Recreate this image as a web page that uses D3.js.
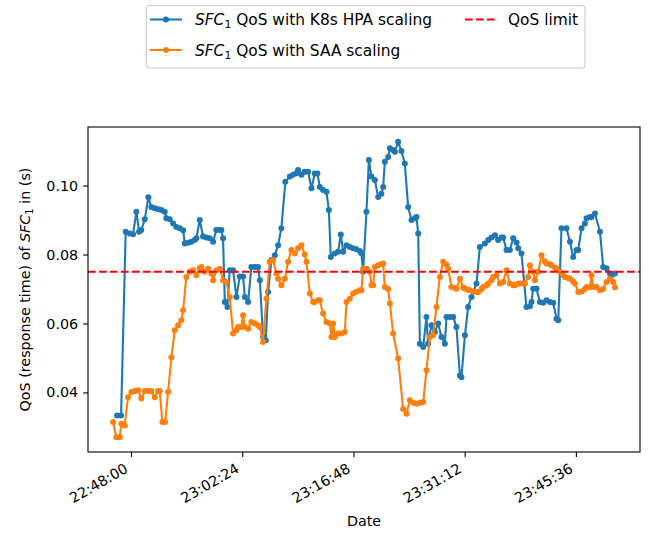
<!DOCTYPE html>
<html>
<head>
<meta charset="utf-8">
<script src="https://cdn.jsdelivr.net/npm/d3@7"></script>
<style>
  html, body { margin: 0; padding: 0; background: #ffffff; }
  svg { display: block; }
  text { font-family: "DejaVu Sans", sans-serif; fill: #000; }
</style>
</head>
<body>
<svg id="chart" width="649" height="534"></svg>
<script>
// Measurement start; samples are given as seconds elapsed since it.
const startTime = "22:45:25";

// SFC1 response time with Kubernetes HPA scaling
const hpaSeconds = [47, 78, 114, 145, 171, 197, 218, 235, 262, 290, 313, 340, 365, 391, 417, 430, 456, 482, 507, 534,
  560, 573, 598, 624, 650, 663, 689, 715, 741, 767, 793, 818, 845, 857, 870, 884, 904, 922, 948, 974,
  1000, 1026, 1039, 1065, 1090, 1117, 1142, 1156, 1181, 1202, 1220, 1246, 1272, 1298, 1323, 1354, 1389, 1414, 1440, 1453,
  1479, 1505, 1531, 1557, 1583, 1603, 1622, 1647, 1673, 1692, 1707, 1738, 1764, 1785, 1803, 1829, 1855, 1881, 1906, 1933,
  1945, 1958, 1984, 2003, 2023, 2049, 2075, 2100, 2114, 2127, 2153, 2166, 2191, 2205, 2230, 2256, 2282, 2308, 2334, 2360,
  2373, 2386, 2399, 2425, 2450, 2463, 2489, 2515, 2541, 2567, 2593, 2606, 2632, 2658, 2683, 2710, 2722, 2749, 2774, 2800,
  2839, 2865, 2904, 2930, 2955, 2982, 3007, 3033, 3046, 3072, 3098, 3124, 3150, 3163, 3188, 3227, 3254, 3266, 3279, 3305,
  3331, 3357, 3383, 3409, 3435, 3460, 3474, 3499, 3538, 3565, 3590, 3616, 3629, 3655, 3681, 3694, 3720, 3732, 3759, 3798,
  3823, 3849, 3875, 3888, 3914];
const hpaQoS = [0.0333, 0.0333, 0.0866, 0.0861, 0.0859, 0.0924, 0.0866, 0.0871, 0.0902, 0.0966, 0.0938, 0.0934, 0.0931, 0.0929, 0.0924, 0.0905, 0.0902, 0.0890, 0.0880, 0.0876,
  0.0870, 0.0832, 0.0834, 0.0837, 0.0842, 0.0847, 0.0900, 0.0852, 0.0849, 0.0847, 0.0837, 0.0871, 0.0871, 0.0871, 0.0847, 0.0662, 0.0648, 0.0754, 0.0754, 0.0677,
  0.0736, 0.0736, 0.0677, 0.0662, 0.0764, 0.0764, 0.0764, 0.0725, 0.0561, 0.0551, 0.0691, 0.0784, 0.0798, 0.0827, 0.0876, 0.1011, 0.1026, 0.1031, 0.1036, 0.1045,
  0.1031, 0.1040, 0.1040, 0.0992, 0.1035, 0.1035, 0.0996, 0.0987, 0.0982, 0.0929, 0.0793, 0.0803, 0.0808, 0.0858, 0.0808, 0.0827, 0.0822, 0.0818, 0.0815, 0.0810,
  0.0803, 0.0750, 0.0924, 0.1074, 0.1026, 0.1016, 0.0967, 0.0976, 0.0996, 0.1069, 0.1083, 0.1108, 0.1103, 0.1098, 0.1127, 0.1100, 0.1064, 0.0938, 0.0900, 0.0905,
  0.0909, 0.0861, 0.0541, 0.0532, 0.0619, 0.0541, 0.0595, 0.0575, 0.0600, 0.0561, 0.0541, 0.0619, 0.0619, 0.0619, 0.0590, 0.0449, 0.0444, 0.0566, 0.0648, 0.0677,
  0.0716, 0.0822, 0.0832, 0.0842, 0.0849, 0.0856, 0.0842, 0.0849, 0.0849, 0.0813, 0.0813, 0.0847, 0.0835, 0.0818, 0.0803, 0.0648, 0.0650, 0.0662, 0.0701, 0.0701,
  0.0662, 0.0660, 0.0667, 0.0662, 0.0660, 0.0614, 0.0609, 0.0876, 0.0876, 0.0837, 0.0793, 0.0813, 0.0813, 0.0876, 0.0890, 0.0905, 0.0909, 0.0909, 0.0919, 0.0866,
  0.0764, 0.0760, 0.0745, 0.0740, 0.0745];

// SFC1 response time with SAA scaling
const saaSeconds = [16, 41, 68, 80, 106, 132, 158, 184, 210, 235, 262, 288, 313, 340, 365, 378, 399, 420, 443, 469,
  495, 521, 546, 560, 585, 612, 637, 663, 689, 702, 728, 754, 779, 793, 818, 845, 870, 896, 922, 948,
  974, 987, 1013, 1026, 1039, 1065, 1090, 1117, 1142, 1156, 1181, 1207, 1233, 1259, 1285, 1298, 1323, 1350, 1375, 1401,
  1428, 1453, 1479, 1505, 1518, 1544, 1570, 1583, 1609, 1622, 1647, 1673, 1700, 1712, 1725, 1738, 1764, 1790, 1816, 1829,
  1855, 1881, 1906, 1933, 1945, 1958, 1984, 2010, 2023, 2036, 2049, 2075, 2100, 2114, 2127, 2153, 2166, 2191, 2230, 2269,
  2295, 2321, 2347, 2373, 2399, 2425, 2450, 2477, 2502, 2528, 2554, 2580, 2606, 2619, 2644, 2671, 2683, 2710, 2735, 2749,
  2774, 2787, 2813, 2839, 2852, 2878, 2891, 2916, 2930, 2955, 2969, 2994, 3021, 3046, 3072, 3098, 3124, 3137, 3163, 3176,
  3202, 3215, 3240, 3254, 3279, 3293, 3318, 3344, 3370, 3383, 3409, 3422, 3448, 3460, 3487, 3513, 3526, 3551, 3565, 3590,
  3603, 3629, 3655, 3681, 3694, 3720, 3732, 3746, 3771, 3798, 3823, 3849, 3875, 3901, 3914];
const saaQoS = [0.0314, 0.0270, 0.0270, 0.0309, 0.0304, 0.0386, 0.0401, 0.0404, 0.0406, 0.0382, 0.0404, 0.0404, 0.0404, 0.0386, 0.0404, 0.0404, 0.0314, 0.0314, 0.0401, 0.0502,
  0.0580, 0.0595, 0.0609, 0.0638, 0.0735, 0.0750, 0.0754, 0.0740, 0.0760, 0.0764, 0.0750, 0.0759, 0.0745, 0.0725, 0.0754, 0.0759, 0.0725, 0.0720, 0.0677, 0.0571,
  0.0580, 0.0590, 0.0590, 0.0624, 0.0590, 0.0585, 0.0604, 0.0600, 0.0595, 0.0590, 0.0546, 0.0672, 0.0779, 0.0784, 0.0745, 0.0730, 0.0711, 0.0730, 0.0779, 0.0813,
  0.0803, 0.0818, 0.0827, 0.0800, 0.0779, 0.0687, 0.0662, 0.0662, 0.0667, 0.0667, 0.0629, 0.0604, 0.0600, 0.0561, 0.0600, 0.0561, 0.0571, 0.0571, 0.0575, 0.0662,
  0.0672, 0.0687, 0.0692, 0.0696, 0.0696, 0.0759, 0.0759, 0.0750, 0.0711, 0.0711, 0.0764, 0.0769, 0.0772, 0.0774, 0.0706, 0.0700, 0.0658, 0.0571, 0.0498, 0.0352,
  0.0338, 0.0377, 0.0370, 0.0367, 0.0370, 0.0372, 0.0464, 0.0561, 0.0566, 0.0648, 0.0735, 0.0779, 0.0770, 0.0759, 0.0706, 0.0703, 0.0701, 0.0730, 0.0705, 0.0701,
  0.0698, 0.0696, 0.0693, 0.0691, 0.0691, 0.0700, 0.0706, 0.0710, 0.0716, 0.0725, 0.0735, 0.0740, 0.0716, 0.0720, 0.0754, 0.0716, 0.0711, 0.0711, 0.0716, 0.0716,
  0.0716, 0.0716, 0.0735, 0.0769, 0.0750, 0.0725, 0.0750, 0.0798, 0.0780, 0.0774, 0.0772, 0.0769, 0.0762, 0.0759, 0.0750, 0.0740, 0.0735, 0.0732, 0.0730, 0.0722,
  0.0716, 0.0691, 0.0693, 0.0700, 0.0706, 0.0706, 0.0740, 0.0706, 0.0706, 0.0696, 0.0700, 0.0720, 0.0730, 0.0720, 0.0705];

const qosLimit = 0.075;
const yTickValues = [0.04, 0.06, 0.08, 0.10];
const xTickLabels = ["22:48:00", "23:02:24", "23:16:48", "23:31:12", "23:45:36"];

const colors = { hpa: "#1f77b4", saa: "#ff7f0e", limit: "#ff0000" };

const parseTime = d3.timeParse("%H:%M:%S");
const t0 = parseTime(startTime);
const toSeries = (secs, vals) => secs.map((s, i) => ({ t: new Date(t0.getTime() + s * 1000), v: vals[i] }));
const hpa = toSeries(hpaSeconds, hpaQoS);
const saa = toSeries(saaSeconds, saaQoS);

const svg = d3.select("#chart");
const plot = { left: 88, right: 640, top: 127, bottom: 452 };
const fontSize = 14.3;
const legendFontSize = 15.4;

// Data limits with 5% padding on each side
const all = hpa.concat(saa);
const tExt = d3.extent(all, d => d.t.getTime());
const vExt = d3.extent(all, d => d.v);
const tPad = (tExt[1] - tExt[0]) * 0.05;
const vPad = (vExt[1] - vExt[0]) * 0.05;

const x = d3.scaleTime()
  .domain([new Date(tExt[0] - tPad), new Date(tExt[1] + tPad)])
  .range([plot.left, plot.right]);
const y = d3.scaleLinear()
  .domain([vExt[0] - vPad, vExt[1] + vPad])
  .range([plot.bottom, plot.top]);

// Axes
const xTicks = xTickLabels.map(parseTime);
const xAxis = d3.axisBottom(x).tickValues(xTicks).tickFormat(d3.timeFormat("%H:%M:%S"))
  .tickSizeInner(4.9).tickSizeOuter(0).tickPadding(4.9);
const yAxis = d3.axisLeft(y).tickValues(yTickValues).tickFormat(d3.format(".2f"))
  .tickSizeInner(4.9).tickSizeOuter(0).tickPadding(4.9);

const gx = svg.append("g").attr("transform", `translate(0,${plot.bottom})`).call(xAxis);
gx.select(".domain").remove();
gx.selectAll(".tick line").attr("stroke", "#000").attr("stroke-width", 1.1);
gx.selectAll(".tick text")
  .attr("font-size", fontSize)
  .attr("font-family", "DejaVu Sans")
  .attr("fill", "#000")
  .attr("text-anchor", "end")
  .attr("dy", null)
  .attr("y", null)
  .attr("transform", "translate(-2.5,19.5) rotate(-30)");

const gy = svg.append("g").attr("transform", `translate(${plot.left},0)`).call(yAxis);
gy.select(".domain").remove();
gy.selectAll(".tick line").attr("stroke", "#000").attr("stroke-width", 1.1);
gy.selectAll(".tick text")
  .attr("font-size", fontSize)
  .attr("font-family", "DejaVu Sans")
  .attr("fill", "#000");

// Series lines with point markers
const line = d3.line().x(d => x(d.t)).y(d => y(d.v));
const clipId = "plot-clip";
svg.append("clipPath").attr("id", clipId)
  .append("rect")
  .attr("x", plot.left).attr("y", plot.top)
  .attr("width", plot.right - plot.left).attr("height", plot.bottom - plot.top);

const dataLayer = svg.append("g").attr("clip-path", `url(#${clipId})`);
[[hpa, colors.hpa], [saa, colors.saa]].forEach(([series, color]) => {
  dataLayer.append("path")
    .datum(series)
    .attr("fill", "none")
    .attr("stroke", color)
    .attr("stroke-width", 2.1)
    .attr("stroke-linejoin", "round")
    .attr("d", line);
  dataLayer.append("g")
    .selectAll("circle")
    .data(series)
    .join("circle")
    .attr("cx", d => x(d.t))
    .attr("cy", d => y(d.v))
    .attr("r", 3)
    .attr("fill", color);
});

// QoS limit
dataLayer.append("line")
  .attr("x1", plot.left).attr("x2", plot.right)
  .attr("y1", y(qosLimit)).attr("y2", y(qosLimit))
  .attr("stroke", colors.limit)
  .attr("stroke-width", 2.08)
  .attr("stroke-dasharray", "7.7,3.3");

// Frame
svg.append("rect")
  .attr("x", plot.left).attr("y", plot.top)
  .attr("width", plot.right - plot.left).attr("height", plot.bottom - plot.top)
  .attr("fill", "none").attr("stroke", "#000").attr("stroke-width", 1.1);

// Axis titles
svg.append("text")
  .attr("x", (plot.left + plot.right) / 2).attr("y", 526)
  .attr("text-anchor", "middle").attr("font-size", fontSize)
  .text("Date");

const ylab = svg.append("text")
  .attr("transform", `translate(30,${(plot.top + plot.bottom) / 2}) rotate(-90)`)
  .attr("text-anchor", "middle").attr("font-size", fontSize);
ylab.append("tspan").text("QoS (response time) of ");
ylab.append("tspan").attr("font-style", "italic").text("SFC");
ylab.append("tspan").attr("font-size", fontSize * 0.7).attr("dy", 3).text("1");
ylab.append("tspan").attr("dy", -3).text(" in (s)");

// Legend
const legend = svg.append("g");
legend.append("rect")
  .attr("x", 146.5).attr("y", 5.5).attr("width", 438.5).attr("height", 62.5)
  .attr("rx", 3).attr("fill", "#fff").attr("fill-opacity", 0.8)
  .attr("stroke", "#cccccc").attr("stroke-width", 1.1);

const entries = [
  { color: colors.hpa, label: "QoS with K8s HPA scaling", x: 150, yc: 19.5, sfc: true, marker: true, dash: null, tx: 195 },
  { color: colors.saa, label: "QoS with SAA scaling", x: 150, yc: 50, sfc: true, marker: true, dash: null, tx: 195 },
  { color: colors.limit, label: "QoS limit", x: 465, yc: 19.5, sfc: false, marker: false, dash: "7.7,3.3", tx: 508 }
];
entries.forEach(e => {
  legend.append("line")
    .attr("x1", e.x).attr("x2", e.x + 32)
    .attr("y1", e.yc).attr("y2", e.yc)
    .attr("stroke", e.color).attr("stroke-width", 2.08)
    .attr("stroke-dasharray", e.dash);
  if (e.marker) {
    legend.append("circle").attr("cx", e.x + 16).attr("cy", e.yc).attr("r", 3).attr("fill", e.color);
  }
  const t = legend.append("text")
    .attr("x", e.tx).attr("y", e.yc + 5.5)
    .attr("font-size", legendFontSize);
  if (e.sfc) {
    t.append("tspan").attr("font-style", "italic").text("SFC");
    t.append("tspan").attr("font-size", legendFontSize * 0.7).attr("dy", 3.2).text("1");
    t.append("tspan").attr("dy", -3.2).text(" " + e.label);
  } else {
    t.text(e.label);
  }
});
</script>
</body>
</html>
